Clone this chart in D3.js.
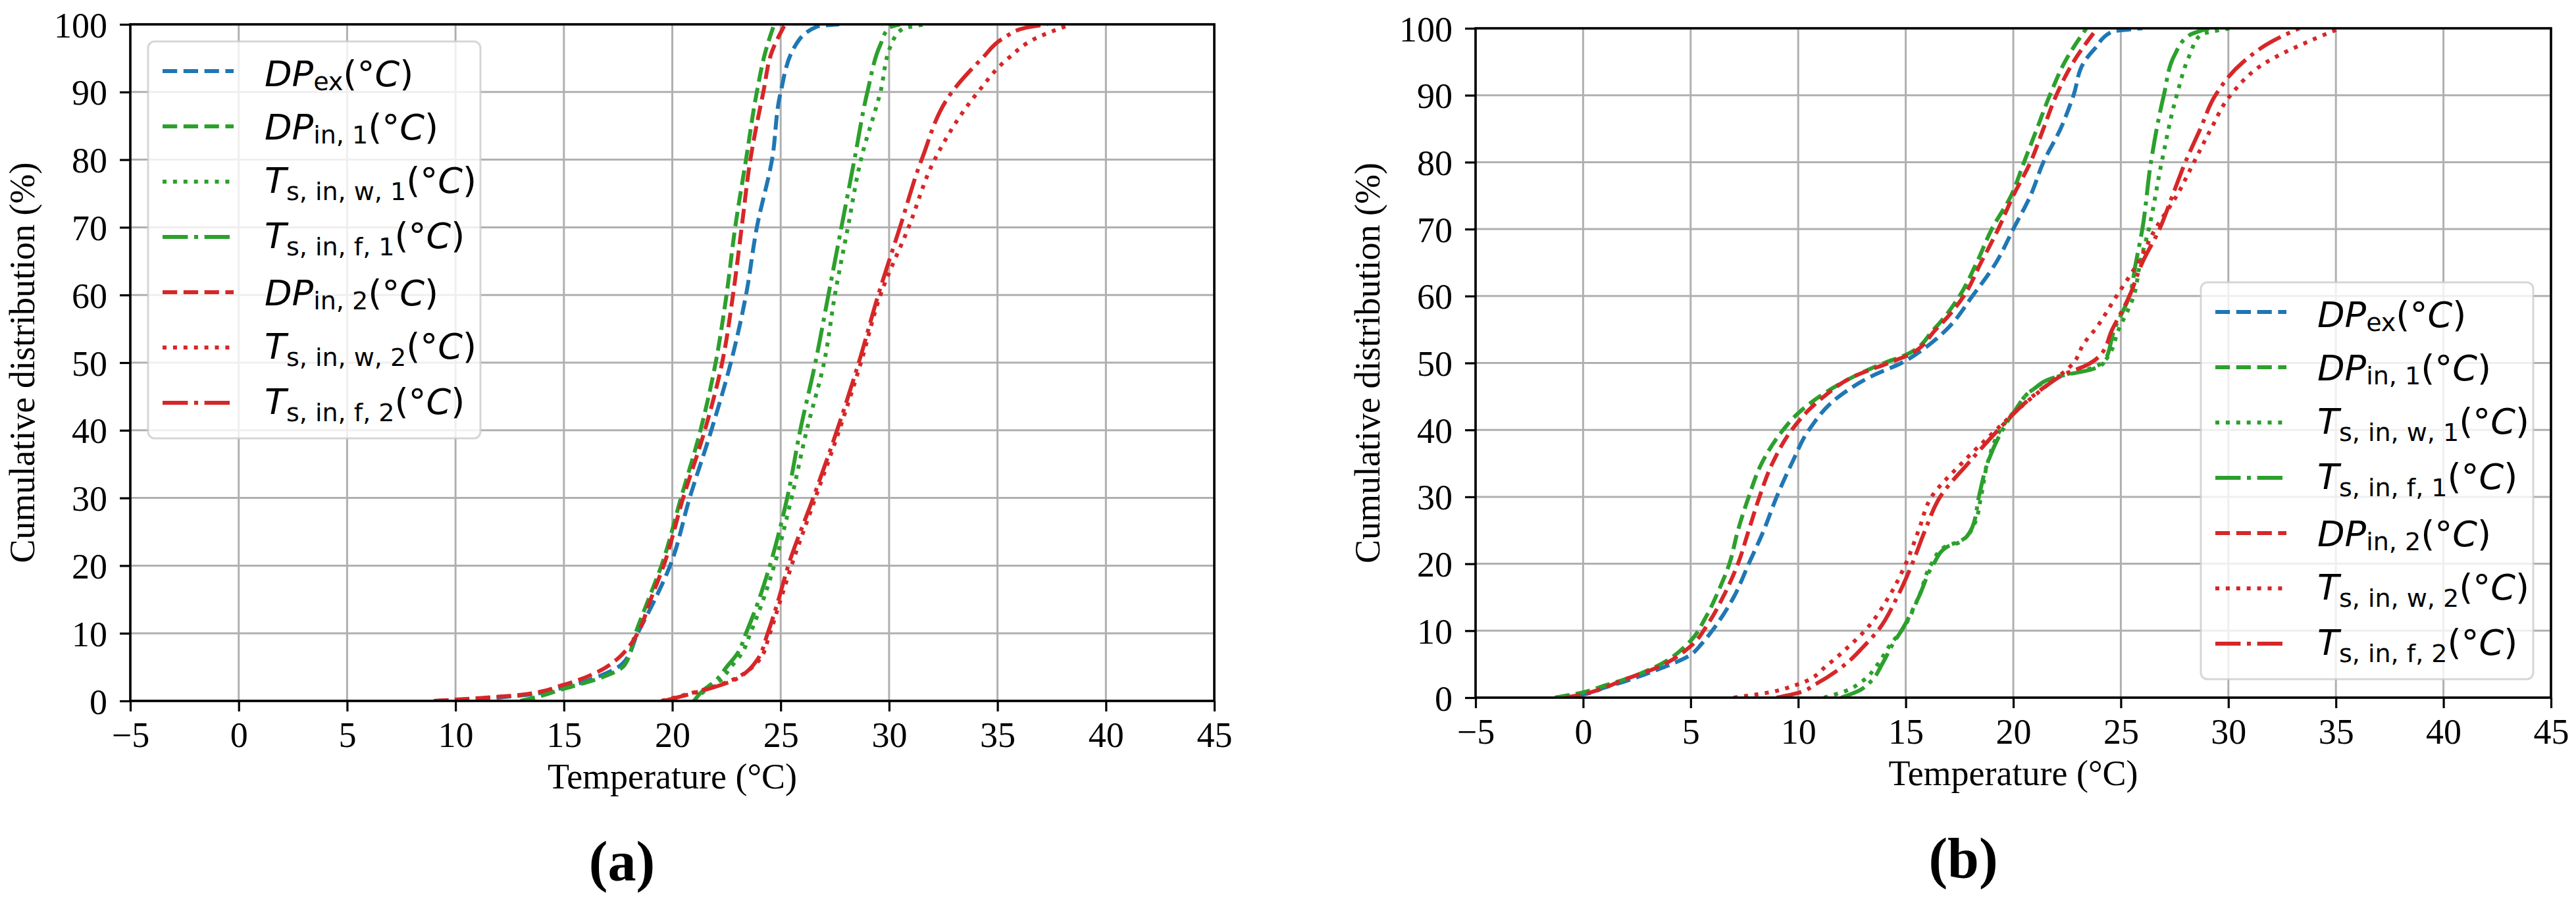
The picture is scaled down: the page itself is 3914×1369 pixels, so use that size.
<!DOCTYPE html>
<html><head><meta charset="utf-8">
<script src="https://cdn.jsdelivr.net/npm/d3@7"></script>
<style>body{margin:0;background:#fff}svg{display:block}</style>
</head><body><svg id="fig" width="3914" height="1369"></svg>
<script>
// ---------- tick labels / categories ----------
const xTicks = [-5, 0, 5, 10, 15, 20, 25, 30, 35, 40, 45];
const yTicks = [0, 10, 20, 30, 40, 50, 60, 70, 80, 90, 100];
const seriesKeys = ["DPex", "DPin1", "Tsw1", "Tsf1", "DPin2", "Tsw2", "Tsf2"];
const seriesColors = ["#1f77b4", "#2ca02c", "#2ca02c", "#2ca02c", "#d62728", "#d62728", "#d62728"];
const seriesStyles = ["dashed", "dashed", "dotted", "dashdot", "dashed", "dotted", "dashdot"];
const labelMain = ["DP", "DP", "T", "T", "DP", "T", "T"];
const labelSub = ["ex", "in, 1", "s, in, w, 1", "s, in, f, 1", "in, 2", "s, in, w, 2", "s, in, f, 2"];
const panelLabels = ["(a)", "(b)"];
const xTitle = "Temperature (°C)";
const yTitle = "Cumulative distribution (%)";

// ---------- panel (a) data: [temperature °C, cumulative %] ----------
const a_DPex = [[9,0],[11,0.3],[13,0.8],[15,2.0],[16.5,3.5],[17.7,5.5],[18.4,10],[19.2,15],[19.9,20],[20.8,30],[21.8,40],[22.7,50],[23.4,60],[23.9,70],[24.6,80],[25.0,90],[25.7,97],[26.7,99.7],[27.7,100]];
const a_DPin1 = [[13,0],[14,0.8],[15,1.8],[16.5,3.2],[17.8,5.3],[18.3,10],[18.9,15],[19.5,20],[20.4,30],[21.3,40],[22.0,50],[22.5,60],[22.9,70],[23.4,80],[23.9,90],[24.3,96],[24.7,100]];
const a_Tsw1 = [[21.0,0],[21.5,1.5],[22.2,3],[22.7,5],[23.2,7],[23.6,10],[24.2,15],[24.7,20],[25.5,30],[26.2,40],[27.0,50],[27.5,60],[28.1,70],[28.7,80],[29.6,90],[30.1,97],[30.6,99.3],[31.7,100]];
const a_Tsf1 = [[21.0,0],[21.4,1.5],[22.0,3],[22.5,5],[23.0,7],[23.4,10],[24.0,15],[24.5,20],[25.3,30],[25.9,40],[26.6,50],[27.2,60],[27.8,70],[28.4,80],[29.0,90],[29.6,97],[30.0,99.5],[30.5,100]];
const a_DPin2 = [[9,0],[11,0.4],[13,0.9],[15,2.4],[16.5,4.2],[17.5,6.3],[18.0,8],[18.4,10],[19.0,15],[19.6,20],[20.5,30],[21.5,40],[22.3,50],[22.8,60],[23.2,70],[23.6,80],[24.2,90],[24.6,96],[25.2,100]];
const a_Tsw2 = [[19.5,0],[20.7,1],[21.8,2],[22.7,3],[23.5,4.5],[24.0,6],[24.5,10],[25.0,15],[25.5,20],[26.6,30],[27.7,40],[28.7,50],[29.6,60],[30.9,70],[32.1,80],[34.1,90],[35.5,95],[36.8,98],[38.4,100]];
const a_Tsf2 = [[19.6,0],[20.8,1],[21.9,2],[22.8,3],[23.5,4.5],[23.9,6],[24.4,10],[24.9,15],[25.35,20],[26.5,30],[27.6,40],[28.6,50],[29.5,60],[30.5,70],[31.5,80],[32.9,90],[34.3,95],[35.3,98],[36.3,99.5],[37.3,100]];

// ---------- panel (b) data ----------
const b_DPex = [[-1.3,0],[0,0.5],[1,1.5],[2,2.5],[3.3,4],[5,6.4],[5.5,8],[6,10],[7,15],[7.7,20],[8.4,25],[9.0,30],[9.7,35],[10.5,40],[11.9,45],[13.4,48],[14.8,50],[16,52.5],[16.9,55],[18.1,60],[19.2,65],[20.0,70],[20.8,75],[21.4,80],[22.2,85],[22.8,90],[23.3,95],[23.8,97],[24.6,99.5],[26,100]];
const b_DPin1 = [[-1.3,0],[0,0.8],[1,1.8],[2,2.8],[3.3,4.5],[5,8.5],[5.7,12],[6.3,16],[6.8,20],[7.2,25],[7.7,30],[8.3,35],[9.3,40],[10,42.5],[11,45],[12.6,48],[14,50],[15,51.2],[16.3,55],[17.5,60],[18.3,65],[19,70],[19.9,75],[20.5,80],[21.1,85],[21.7,90],[22.4,95],[23.4,100]];
const b_Tsw1 = [[11.2,0],[12.2,1],[13.0,2.5],[13.7,5],[14.3,8],[14.8,10],[15.6,15],[16.2,20],[16.8,22.5],[17.6,23.5],[18.2,26],[18.5,30],[18.8,35],[19.4,40],[20.1,43],[20.9,46],[22.1,48],[23.6,49.2],[24.3,50.5],[24.9,55],[25.6,60],[25.9,65],[26.3,70],[26.9,80],[27.6,90],[28.2,96],[28.7,99],[30.1,100]];
const b_Tsf1 = [[12.0,0],[12.8,1],[13.4,2.5],[13.9,5],[14.4,8],[14.8,10],[15.6,15],[16.3,20],[16.9,22.5],[17.5,23.2],[18.1,25.5],[18.4,30],[18.8,35],[19.5,40],[20.1,43],[20.9,46],[22.1,48],[23.6,49],[24.2,50],[24.7,55],[25.4,60],[25.7,65],[26.0,70],[26.4,80],[27.0,90],[27.5,96],[28.2,99],[29.1,100]];
const b_DPin2 = [[-0.8,0],[0,0.5],[1,1.5],[2,2.8],[3.3,4.3],[5,7.7],[5.8,11],[6.5,15],[7.2,20],[7.7,25],[8.2,30],[8.8,35],[9.7,40],[10.5,43],[11.2,45],[12.6,48],[14.2,50],[15,51],[16.4,55],[17.7,60],[18.5,65],[19.3,70],[20.0,75],[20.8,80],[21.4,85],[22.0,90],[22.8,95],[23.9,100]];
const b_Tsw2 = [[7.0,0],[8.5,0.7],[10,2],[11.4,5],[12.3,7.5],[13.1,10],[14.2,15],[15.0,20],[15.6,25],[16.2,30],[17.6,35],[19.2,40],[20.2,43],[21.5,46.5],[22.8,50],[23.3,53],[23.8,55],[24.8,60],[25.8,65],[26.6,70],[27.6,75],[28.4,80],[29.2,85],[30.1,90],[31.8,95],[33.7,98],[35.2,100]];
const b_Tsf2 = [[9.0,0],[10,0.7],[10.8,2],[12.2,5],[13.0,7.5],[13.7,10],[14.6,15],[15.3,20],[15.9,25],[16.6,30],[17.9,35],[19.3,40],[20.2,43],[21.5,46.5],[22.5,48.5],[23.3,49.5],[24.0,51],[24.6,55],[25.4,60],[26.0,65],[26.8,70],[27.4,75],[28.0,80],[28.7,85],[29.4,90],[30.7,95],[32.0,98],[33.3,100]];

const panelData = [
  [a_DPex, a_DPin1, a_Tsw1, a_Tsf1, a_DPin2, a_Tsw2, a_Tsf2],
  [b_DPex, b_DPin1, b_Tsw1, b_Tsf1, b_DPin2, b_Tsw2, b_Tsf2]
];

// ---------- layout ----------
const LW = 6;
const dashFor = {
  dashed: [3.7*LW, 1.6*LW].join(","),
  dotted: [1*LW, 1.65*LW].join(","),
  dashdot: [6.4*LW, 1.6*LW, 1*LW, 1.6*LW].join(",")
};
const panels = [
  {left:198, right:1845, top:37, bottom:1065, legend:"upper left", labelX:945, labelY:1338},
  {left:2242, right:3876, top:43, bottom:1060, legend:"lower right", labelX:2983, labelY:1333}
];
const SERIF = "'Liberation Serif','Times New Roman',serif";
const SANS = "'DejaVu Sans',sans-serif";
const svg = d3.select("#fig");

panels.forEach((p, pi) => {
  const x = d3.scaleLinear().domain([-5, 45]).range([p.left, p.right]);
  const y = d3.scaleLinear().domain([0, 100]).range([p.bottom, p.top]);
  const g = svg.append("g");
  const clipId = "clip" + pi;
  g.append("clipPath").attr("id", clipId).append("rect")
    .attr("x", p.left).attr("y", p.top).attr("width", p.right - p.left).attr("height", p.bottom - p.top);

  // grid
  const grid = g.append("g").attr("stroke", "#b0b0b0").attr("stroke-width", 3);
  grid.selectAll("line.v").data(xTicks).join("line").attr("class","v")
    .attr("x1", d => x(d)).attr("x2", d => x(d)).attr("y1", p.top).attr("y2", p.bottom);
  grid.selectAll("line.h").data(yTicks).join("line").attr("class","h")
    .attr("y1", d => y(d)).attr("y2", d => y(d)).attr("x1", p.left).attr("x2", p.right);

  // curves
  const line = d3.line().x(d => x(d[0])).y(d => y(d[1])).curve(d3.curveMonotoneY);
  const lines = g.append("g").attr("clip-path", `url(#${clipId})`);
  panelData[pi].forEach((ser, si) => {
    lines.append("path").datum(ser)
      .attr("d", line).attr("fill", "none")
      .attr("stroke", seriesColors[si]).attr("stroke-width", LW)
      .attr("stroke-dasharray", dashFor[seriesStyles[si]])
      .attr("stroke-linecap", "butt").attr("stroke-linejoin", "round");
  });

  // axes
  const fmt = d => d < 0 ? "\u2212" + Math.abs(d) : String(d);
  const xa = g.append("g").attr("transform", `translate(0,${p.bottom})`)
    .call(d3.axisBottom(x).tickValues(xTicks).tickSize(16).tickFormat(fmt));
  const ya = g.append("g").attr("transform", `translate(${p.left},0)`)
    .call(d3.axisLeft(y).tickValues(yTicks).tickSize(16).tickFormat(fmt));
  [xa, ya].forEach(a => {
    a.select(".domain").remove();
    a.selectAll(".tick line").attr("stroke", "#000").attr("stroke-width", 3.2);
    a.selectAll("text").attr("font-family", SERIF).attr("font-size", 54).attr("fill", "#000");
  });
  xa.selectAll("text").attr("y", 70).attr("dy", 0);
  ya.selectAll("text").attr("x", -35).attr("dy", 19);

  // spines
  g.append("rect").attr("x", p.left).attr("y", p.top)
    .attr("width", p.right - p.left).attr("height", p.bottom - p.top)
    .attr("fill", "none").attr("stroke", "#000").attr("stroke-width", 3.6);

  // titles
  g.append("text").attr("x", (p.left + p.right) / 2).attr("y", p.bottom + 133)
    .attr("text-anchor", "middle").attr("font-family", SERIF).attr("font-size", 54).text(xTitle);
  g.append("text").attr("transform", `translate(${p.left - 146},${(p.top + p.bottom) / 2}) rotate(-90)`)
    .attr("text-anchor", "middle").attr("font-family", SERIF).attr("font-size", 54).text(yTitle);
  g.append("text").attr("x", p.labelX).attr("y", p.labelY)
    .attr("text-anchor", "middle").attr("font-family", SERIF).attr("font-weight", "bold")
    .attr("font-size", 86).text(panelLabels[pi]);

  // legend
  const LWid = 505, LHt = 603;
  const lx = p.legend === "upper left" ? p.left + 27 : p.right - 27 - LWid;
  const ly = p.legend === "upper left" ? p.top + 26 : p.bottom - 28 - LHt;
  const lg = g.append("g");
  lg.append("rect").attr("x", lx).attr("y", ly).attr("width", LWid).attr("height", LHt)
    .attr("rx", 10).attr("fill", "#fff").attr("fill-opacity", 0.8)
    .attr("stroke", "#cccccc").attr("stroke-opacity", 0.8).attr("stroke-width", 3);
  seriesKeys.forEach((k, si) => {
    const ry = ly + 45 + si * 84;
    lg.append("line").attr("x1", lx + 22).attr("x2", lx + 130).attr("y1", ry).attr("y2", ry)
      .attr("stroke", seriesColors[si]).attr("stroke-width", LW)
      .attr("stroke-dasharray", dashFor[seriesStyles[si]]);
    const isT = labelMain[si] === "T";
    const base = ry + (isT ? 17 : (labelSub[si] === "ex" ? 23 : 20));
    const drop = isT ? 11 : 6;
    const t = lg.append("text").attr("x", lx + 177).attr("y", base)
      .attr("font-family", SANS).attr("font-size", 54).attr("fill", "#000")
      .attr("xml:space", "preserve");
    t.append("tspan").attr("font-style", "italic").text(labelMain[si]);
    t.append("tspan").attr("font-size", 38).attr("dy", drop).text(labelSub[si]);
    t.append("tspan").attr("dy", -drop).text("(");
    t.append("tspan").attr("font-style", "italic").text("°C");
    t.append("tspan").text(")");
  });
});
</script></body></html>
